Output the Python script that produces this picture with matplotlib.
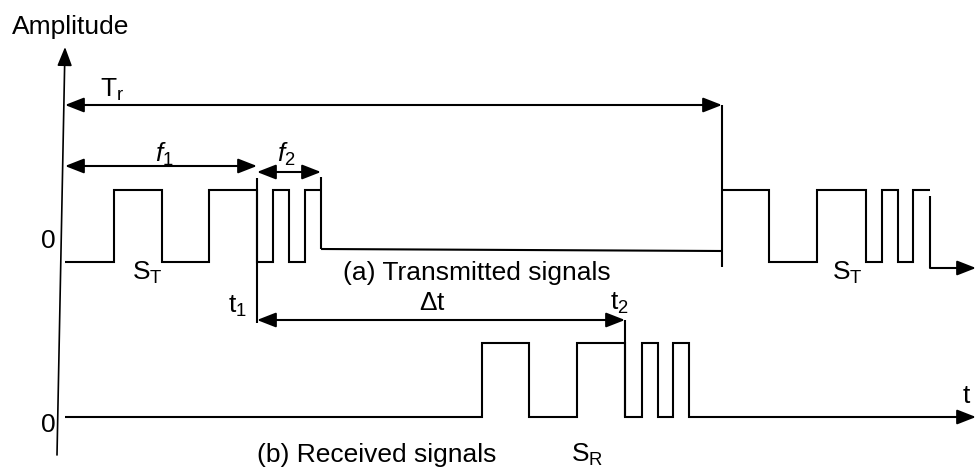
import matplotlib
matplotlib.use('Agg')
import matplotlib.pyplot as plt

plt.rcParams['font.family'] = ['Liberation Sans', 'DejaVu Sans']
plt.rcParams['mathtext.fontset'] = 'custom'
plt.rcParams['mathtext.rm'] = 'Liberation Sans'
plt.rcParams['mathtext.it'] = 'Liberation Sans:italic'

# diagram laid out in pixel units (x to the right, y downwards)
HIGH_A, LOW_A = 190, 262          # transmitted pulse levels
REST_A = (249, 251)               # idle level after the burst (slight slope)
HIGH_B, LOW_B = 343, 417          # received pulse levels

# transmitted burst 1: edges and the level held between consecutive edges
tx1_edges = [65, 114, 162, 209, 257, 273, 289, 305, 321]
tx1_levels = [LOW_A, HIGH_A, LOW_A, HIGH_A, LOW_A, HIGH_A, LOW_A, HIGH_A]
tx_rest_end = 722
# transmitted burst 2 (next period)
tx2_edges = [722, 769, 817, 866, 882, 898, 913, 930]
tx2_levels = [HIGH_A, LOW_A, HIGH_A, LOW_A, HIGH_A, LOW_A, HIGH_A]
tx2_tail = (196, 268)
# received signal, baseline included
rx_edges = [65, 482, 529, 577, 625, 642, 658, 673, 689, 940]
rx_levels = [LOW_B, HIGH_B, LOW_B, HIGH_B, LOW_B, HIGH_B, LOW_B, HIGH_B, LOW_B]

t_start, t_end = 65, 976
t1, t2, Tr_end = 257, 625, 722


def steps(edges, levels):
    xs, ys = [], []
    for i, lv in enumerate(levels):
        xs += [edges[i], edges[i + 1]]
        ys += [lv, lv]
    return xs, ys


fig = plt.figure(figsize=(9.76, 4.71), dpi=100)
ax = fig.add_axes([0, 0, 1, 1])
ax.set_xlim(0, 976)
ax.set_ylim(471, 0)
ax.axis('off')

lw = 1.5
k = dict(color='black', lw=lw, solid_capstyle='butt', solid_joinstyle='miter')

# transmitted signal, first burst
xs, ys = steps(tx1_edges, tx1_levels)
ax.plot(xs, ys, **k)
ax.plot([tx1_edges[-1], tx1_edges[-1]], [177, REST_A[0]], **k)
ax.plot([tx1_edges[-1], tx_rest_end], list(REST_A), **k)
# markers at t1 and end of period
ax.plot([t1, t1], [178, 323], **k)
ax.plot([Tr_end, Tr_end], [105, 267], **k)

# transmitted signal, second burst
xs, ys = steps(tx2_edges, tx2_levels)
ax.plot(xs, ys, **k)
ax.plot([tx2_edges[-1], tx2_edges[-1]], list(tx2_tail), **k)

# received signal
xs, ys = steps(rx_edges, rx_levels)
ax.plot(xs, ys, **k)
ax.plot([t2, t2], [320, LOW_B], **k)

ah = dict(color='black', lw=lw, shrinkA=0, shrinkB=0, mutation_scale=10)
one = dict(arrowstyle='-|>,head_length=1.15,head_width=0.45', **ah)
two = dict(arrowstyle='<|-|>,head_length=1.15,head_width=0.45', **ah)

# axes
ax.annotate('', xy=(65, 47), xytext=(57, 455), arrowprops=dict(one, lw=1.2))
ax.annotate('', xy=(t_end, LOW_B), xytext=(rx_edges[-1], LOW_B), arrowprops=one)
ax.annotate('', xy=(t_end, tx2_tail[1]), xytext=(tx2_edges[-1], tx2_tail[1]),
            arrowprops=one)

# dimension arrows
ax.annotate('', xy=(t_start, 105), xytext=(Tr_end, 105), arrowprops=two)
ax.annotate('', xy=(t_start, 166), xytext=(t1, 166), arrowprops=two)
ax.annotate('', xy=(t1, 172), xytext=(tx1_edges[-1], 172), arrowprops=two)
ax.annotate('', xy=(t1, 320), xytext=(t2, 320), arrowprops=two)

fs = 19
ax.text(12, 34, 'Amplitude', fontsize=fs, ha='left', va='baseline')
ax.text(48, 241, '0', fontsize=fs, ha='center', va='center')
ax.text(48, 425, '0', fontsize=fs, ha='center', va='center')
ax.text(100, 97, r'$\mathrm{T_r}$', fontsize=fs, ha='left', va='baseline')
ax.text(164, 162, r'$f_\mathrm{1}$', fontsize=fs, ha='center', va='baseline')
ax.text(286, 162, r'$f_\mathrm{2}$', fontsize=fs, ha='center', va='baseline')
ax.text(132, 280, r'$\mathrm{S_T}$', fontsize=fs, ha='left', va='baseline')
ax.text(832, 280, r'$\mathrm{S_T}$', fontsize=fs, ha='left', va='baseline')
ax.text(343, 280, '(a) Transmitted signals', fontsize=fs, ha='left', va='baseline')
ax.text(228, 313, r'$\mathrm{t_1}$', fontsize=fs, ha='left', va='baseline')
ax.text(432, 310, r'$\Delta\mathrm{t}$', fontsize=fs, ha='center', va='baseline')
ax.text(610, 310, r'$\mathrm{t_2}$', fontsize=fs, ha='left', va='baseline')
ax.text(963, 403, 't', fontsize=fs, ha='left', va='baseline')
ax.text(257, 462, '(b) Received signals', fontsize=fs, ha='left', va='baseline')
ax.text(571, 462, r'$\mathrm{S_R}$', fontsize=fs, ha='left', va='baseline')

fig.savefig('out.png', dpi=100, facecolor='white')
